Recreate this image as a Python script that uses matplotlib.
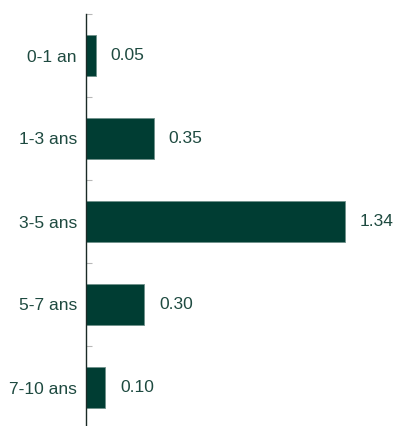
import matplotlib
matplotlib.use("Agg")
import matplotlib.pyplot as plt
import numpy as np

categories = ["0-1 an", "1-3 ans", "3-5 ans", "5-7 ans", "7-10 ans"]
values = [0.05, 0.35, 1.34, 0.30, 0.10]
value_labels = ["0.05", "0.35", "1.34", "0.30", "0.10"]

bar_color = "#003d33"
text_color = "#1e4a40"

plt.rcParams["font.family"] = ["Liberation Sans", "DejaVu Sans"]

fig = plt.figure(figsize=(3.95, 4.26), dpi=100)
ax = fig.add_axes([86 / 395, -3 / 426, 309 / 395, 415 / 426])

y = np.arange(len(categories))
ax.barh(y, values, height=0.5, color=bar_color, edgecolor="#6f918a", linewidth=0.6)

for yi, v, lab in zip(y, values, value_labels):
    ax.annotate(lab, xy=(v, yi), xytext=(10.8, 0), textcoords="offset points",
                ha="left", va="center", fontsize=12.5, color=text_color)

ax.set_xlim(0, 309 / 193)
ax.set_ylim(len(categories) - 0.5, -0.5)

ax.set_yticks(y)
ax.set_yticklabels(categories, fontsize=12.5, color=text_color)
ax.tick_params(axis="y", which="major", length=0, pad=6.5)
ax.set_yticks(np.arange(-0.5, len(categories), 1.0), minor=True)
ax.tick_params(axis="y", which="minor", direction="in", length=4, width=0.8, color="#b8b8b8")
ax.set_xticks([])

for side in ["top", "right", "bottom"]:
    ax.spines[side].set_visible(False)
ax.spines["left"].set_color("#1a2a26")
ax.spines["left"].set_linewidth(1.0)

fig.savefig("out.png", dpi=100)
